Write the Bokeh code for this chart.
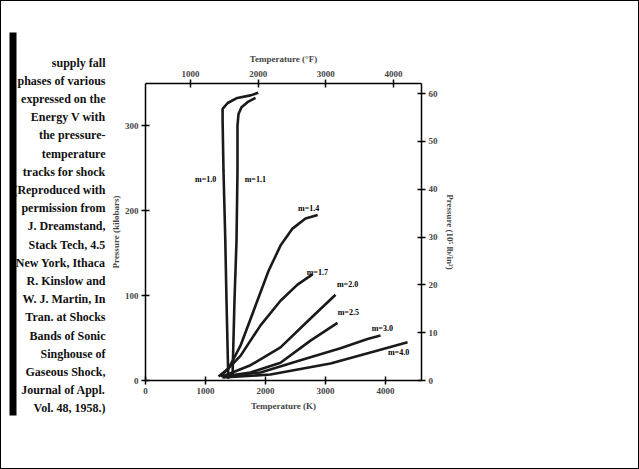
from bokeh.plotting import figure
from bokeh.layouts import row
from bokeh.models import Range1d, LinearAxis, Label, FixedTicker
from bokeh.core.properties import value
from bokeh.embed import file_html
from bokeh.resources import INLINE

# ---------------- data ----------------
# temperature (K) / pressure (kbar) tracks
solid_T = [1380, 1350, 1330, 1300, 1285, 1285, 1370, 1530, 1750, 1880]
solid_P = [2, 94, 165, 247, 306, 320, 327, 333, 336, 339]
dense_T = [1450, 1483, 1517, 1533, 1533, 1550, 1600, 1700, 1833]
dense_P = [3.5, 94, 165, 247, 300, 314, 322, 328, 333]

c1_T = [1217, 1383, 1583, 1833, 2050, 2250, 2450, 2667, 2870]
c1_P = [4.7, 14, 41, 88, 129, 159, 179, 191, 195]
c2_T = [1250, 1583, 1917, 2250, 2533, 2783]
c2_P = [4.7, 29, 65, 94, 113, 125]
c3_T = [1283, 1750, 2250, 2750, 3167]
c3_P = [4.7, 18, 39, 73, 101]
c4_T = [1283, 1750, 2250, 2750, 3200]
c4_P = [4.7, 9.4, 21, 47, 68]
c5_T = [1283, 1917, 2583, 3250, 3700, 3917]
c5_P = [4.7, 9.4, 24, 38, 49, 53]
c6_T = [1283, 2083, 3083, 3750, 4367]
c6_P = [3.5, 7, 20, 33, 45]

curve_labels = ["m=1.0", "m=1.1", "m=1.4", "m=1.7", "m=2.0", "m=2.5", "m=3.0", "m=4.0"]

bottom_ticks = [0, 1000, 2000, 3000, 4000]
left_ticks = [0, 100, 200, 300]
right_ticks = [0, 10, 20, 30, 40, 50, 60]
top_ticks = [1000, 2000, 3000, 4000]

caption_lines = [
    "supply fall", "phases of various", "expressed on the",
    "Energy V with", "the pressure-", "temperature",
    "tracks for shock", "(Reproduced with", "permission from",
    "J. Dreamstand,", "Stack Tech, 4.5", "New York, Ithaca",
    "R. Kinslow and", "W. J. Martin, In", "Tran. at Shocks",
    "Bands of Sonic", "Singhouse of", "Gaseous Shock,",
    "Journal of Appl.", "Vol. 48, 1958.)",
]

FONT = "Liberation Serif"
H = 467

# ---------------- left page fragment (caption) ----------------
side = figure(width=105, height=H, output_backend="svg", toolbar_location=None,
              x_range=Range1d(1, 106), y_range=Range1d(468, 1),
              min_border=0, min_border_left=0, min_border_right=0,
              min_border_top=0, min_border_bottom=0,
              x_axis_location=None, y_axis_location=None)
side.frame_align = False
side.grid.visible = False
side.outline_line_color = None
cap_y = [62 + 18.2 * i for i in range(len(caption_lines))]
side.text(x=[105] * len(caption_lines), y=cap_y, text=caption_lines,
          text_align="right", text_baseline="middle",
          text_font=value(FONT), text_font_style="bold",
          text_font_size="12px", text_color="#111")
side.quad(left=[9], right=[16], top=[32], bottom=[415],
          fill_color="black", line_color=None)

# ---------------- chart ----------------
p = figure(width=532, height=H, output_backend="svg", toolbar_location=None,
           x_range=Range1d(0, 4600), y_range=Range1d(0, 350),
           min_border_left=39, min_border_right=217, min_border_top=82,
           min_border_bottom=88, x_axis_location=None, y_axis_location=None)
p.frame_align = False
p.grid.visible = False
p.outline_line_color = None
p.background_fill_color = "white"
p.border_fill_color = "white"

p.extra_x_ranges = {"top": Range1d(335, 4414)}
p.extra_y_ranges = {"right": Range1d(0, 62.1)}


def style(ax, ticks, title, standoff=4):
    ax.ticker = FixedTicker(ticks=ticks)
    ax.axis_label = title
    ax.axis_label_text_font = FONT
    ax.axis_label_text_font_style = "bold"
    ax.axis_label_text_font_size = "9px"
    ax.axis_label_standoff = standoff
    ax.major_label_text_font = FONT
    ax.major_label_text_font_style = "bold"
    ax.major_label_text_font_size = "9px"
    ax.major_label_standoff = 3
    ax.axis_line_color = "black"
    ax.axis_line_width = 1.5
    ax.major_tick_line_color = "black"
    ax.major_tick_line_width = 1.5
    ax.major_tick_in = 4
    ax.major_tick_out = 4
    ax.minor_tick_line_color = None


bx = LinearAxis()
style(bx, bottom_ticks, "Temperature (K)")
p.add_layout(bx, "below")
lx = LinearAxis()
style(lx, left_ticks, "Pressure (kilobars)", standoff=1)
p.add_layout(lx, "left")
rx = LinearAxis(y_range_name="right")
style(rx, right_ticks, "Pressure (10\u2075 lb/in\u00b2)")
p.add_layout(rx, "right")
tx = LinearAxis(x_range_name="top")
style(tx, top_ticks, "Temperature (\u00b0F)")
p.add_layout(tx, "above")

ink = "#1a1a1a"
for T, P in [(solid_T, solid_P), (dense_T, dense_P), (c1_T, c1_P), (c2_T, c2_P),
             (c3_T, c3_P), (c4_T, c4_P), (c5_T, c5_P), (c6_T, c6_P)]:
    p.line(T, P, line_color=ink, line_width=2.6)

label_pos = [(solid_T[3], solid_P[3], "right", -120, -10),
             (dense_T[3], dense_P[3], "left", 120, -10),
             (c1_T[-1], c1_P[-1], "center", -150, 8),
             (c2_T[-1], c2_P[-1], "center", 80, 2),
             (c3_T[-1], c3_P[-1], "center", 200, 12),
             (c4_T[-1], c4_P[-1], "center", 180, 12),
             (c5_T[-1], c5_P[-1], "center", 30, 8),
             (c6_T[-1], c6_P[-1], "center", -150, -12)]
for (x, y, al, dx, dy), txt in zip(label_pos, curve_labels):
    p.add_layout(Label(x=x + dx, y=y + dy, text=txt, text_align=al,
                       text_baseline="middle", text_font=FONT,
                       text_font_style="bold", text_font_size="8px",
                       text_color="black"))

layout = row(side, p, styles={"border": "1px solid black"})

open("out.html", "w").write(file_html(layout, INLINE))
